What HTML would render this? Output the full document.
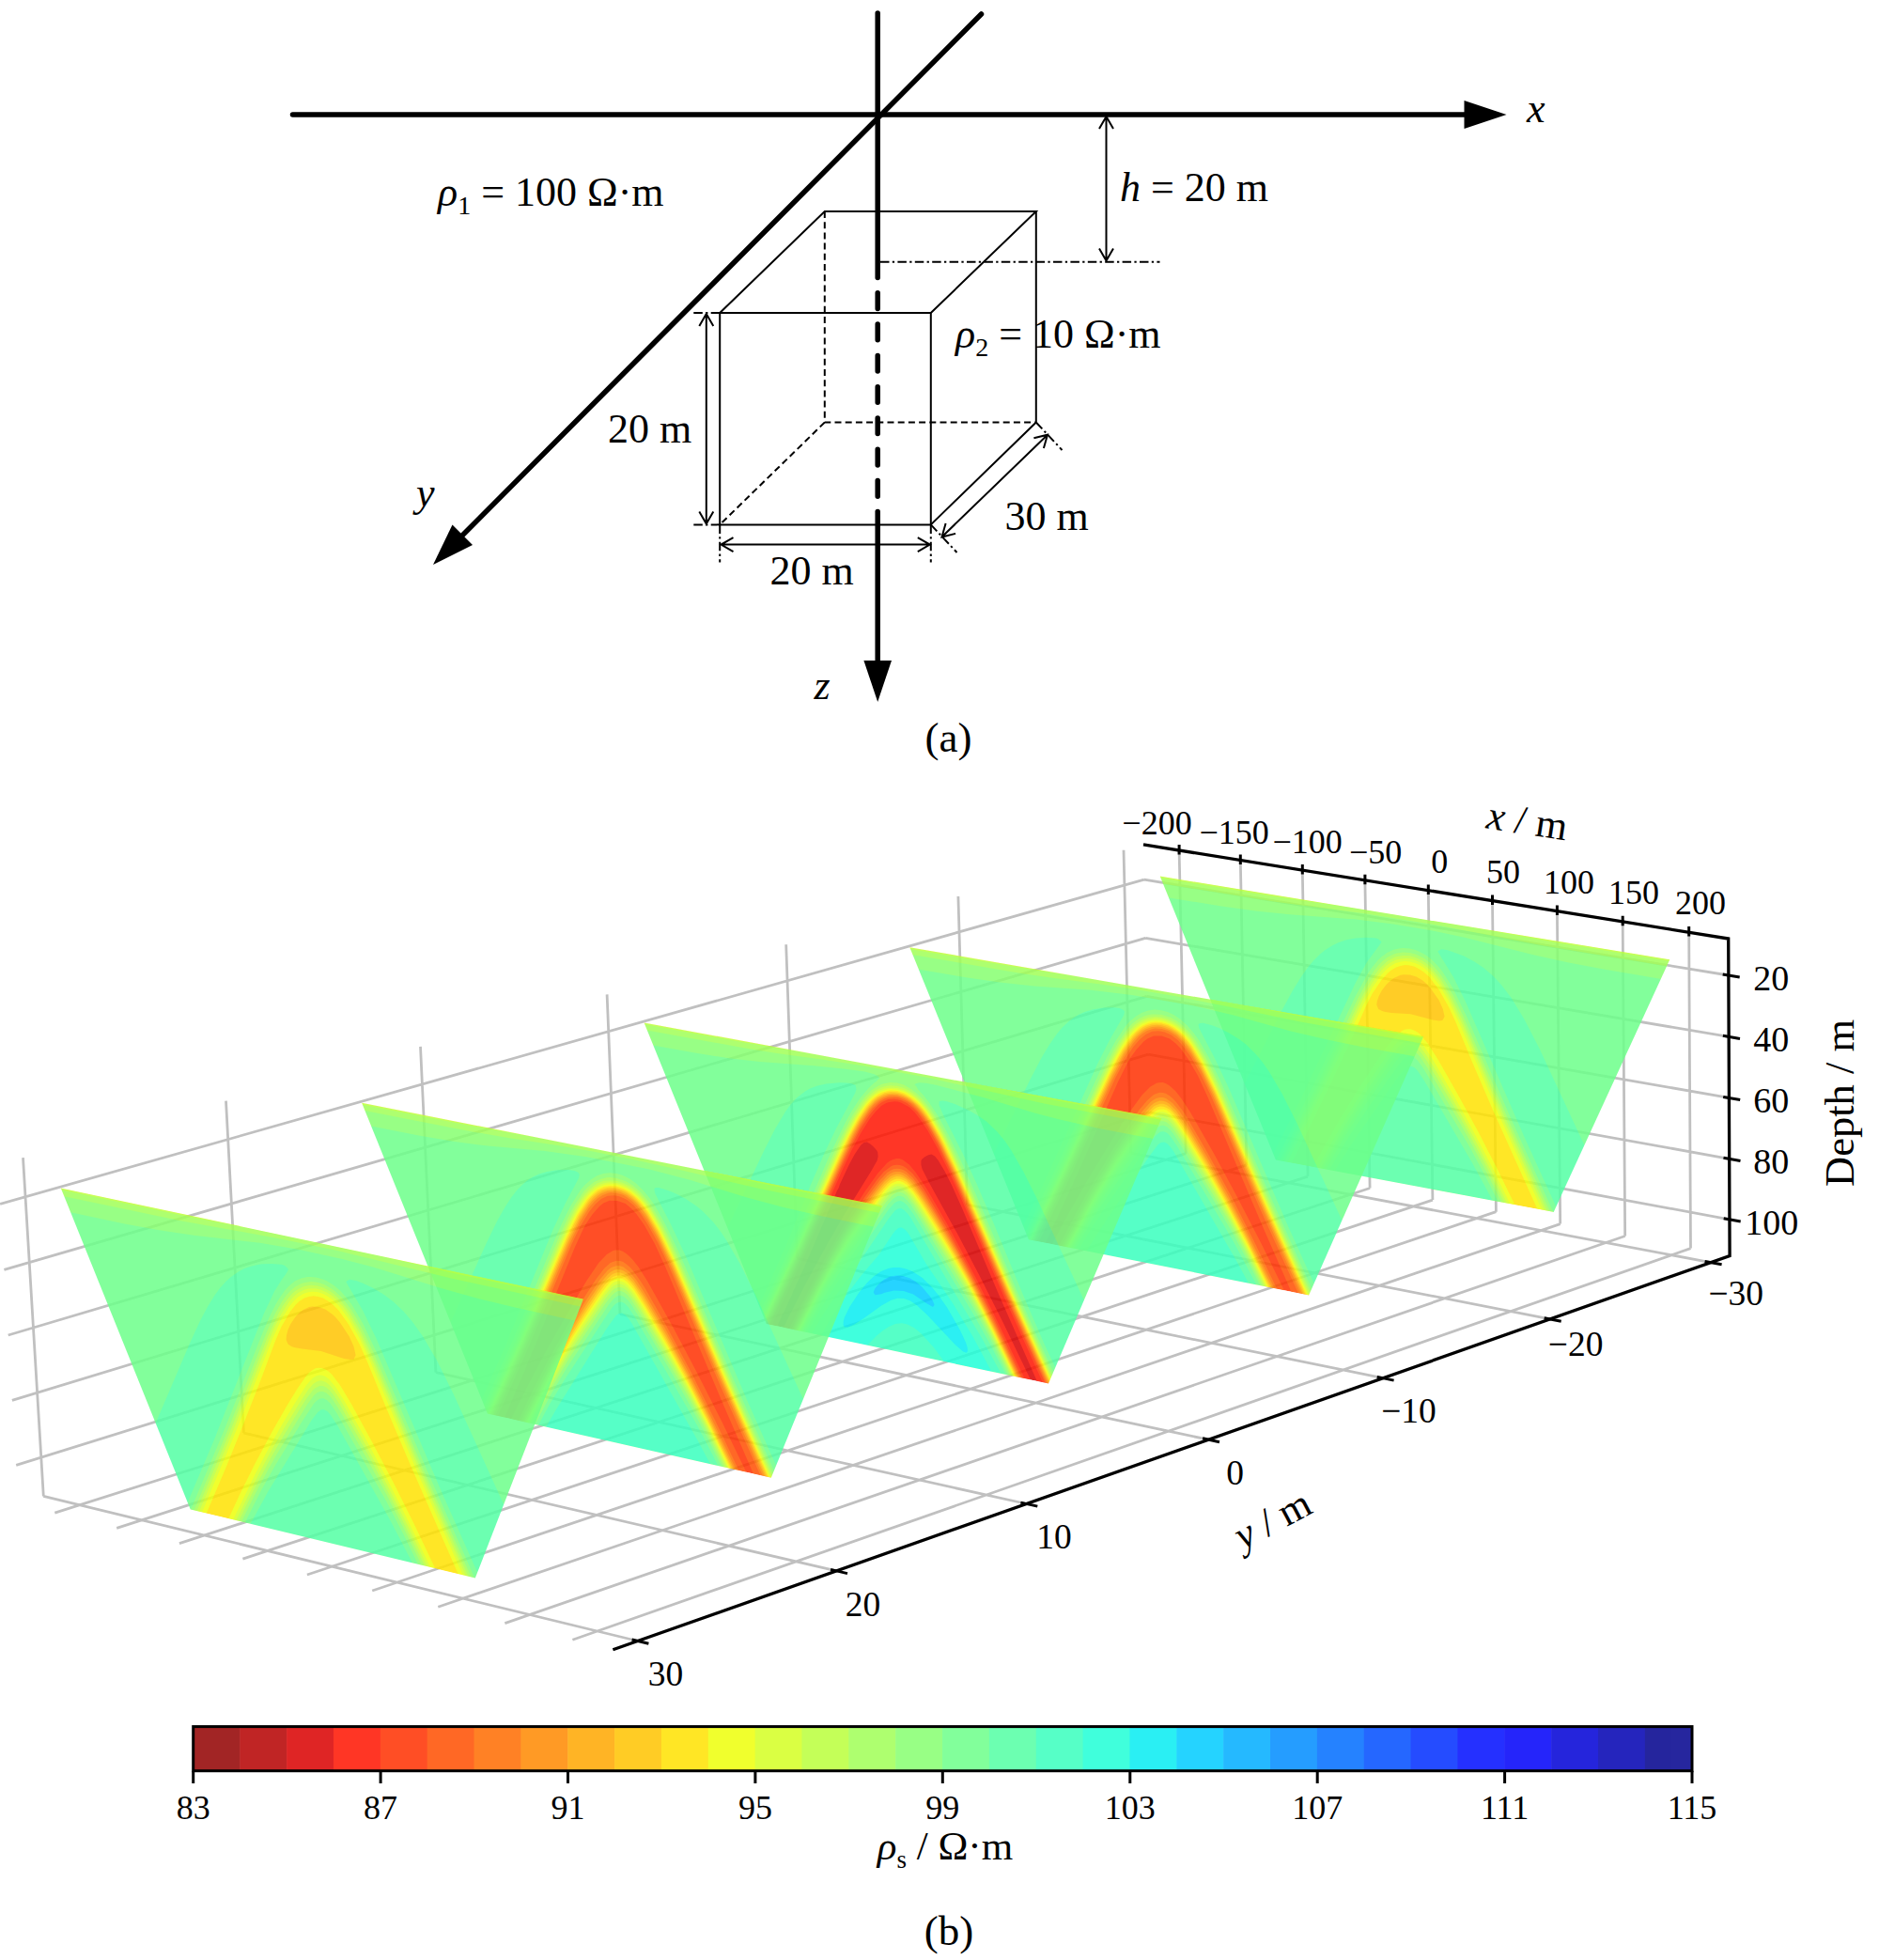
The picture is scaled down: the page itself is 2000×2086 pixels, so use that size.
<!DOCTYPE html>
<html><head><meta charset="utf-8"><title>Figure</title>
<style>html,body{margin:0;padding:0;background:#fff}svg{display:block}</style></head>
<body>
<svg width="2000" height="2086" viewBox="0 0 2000 2086">
<rect width="2000" height="2086" fill="#fff"/>
<g id="figa" fill="none" stroke="#000" stroke-linecap="round">
<g stroke-width="5.5">
<line x1="311.5" y1="122" x2="1562" y2="122"/>
<line x1="934.2" y1="14" x2="934.2" y2="295.5"/>
<line x1="934.2" y1="311.8" x2="934.2" y2="530" stroke-dasharray="16.6 16.7"/>
<line x1="934.2" y1="544.5" x2="934.2" y2="706"/>
<line x1="1044.5" y1="15" x2="478" y2="584"/>
</g>
<g fill="#000" stroke="none">
<polygon points="1558.5,107 1603.5,122 1558.5,137"/>
<polygon points="919.4,703 949,703 934.2,747"/>
<polygon points="461,601 481.5,558.5 503,580"/>
</g>
<g stroke-width="2" stroke-linecap="butt">
<path d="M766.2,333 H990.8 V558.4 H766.2 Z"/>
<path d="M766.2,333 L877.8,225 H1102.8 L990.8,333"/>
<path d="M1102.8,225 V449.5 L990.8,558.4"/>
<path d="M877.8,225 V449.5 H1102.8 M877.8,449.5 L766.2,558.4" stroke-dasharray="7 4.2"/>
<g stroke-dasharray="9.5 3.3 2.3 3.3">
<line x1="937" y1="278.7" x2="1234.5" y2="278.7"/>
<line x1="766.2" y1="333" x2="736.5" y2="333"/>
<line x1="766.2" y1="558.4" x2="736.5" y2="558.4"/>
<line x1="766.2" y1="558.4" x2="766.2" y2="598.5"/>
<line x1="990.8" y1="558.4" x2="990.8" y2="598.5"/>
<line x1="990.8" y1="558.4" x2="1018.5" y2="588"/>
<line x1="1102.8" y1="449.5" x2="1130.5" y2="479"/>
</g>
<path d="M1177.5,124.0 L1177.5,277.5 M1170.0,137.0 L1177.5,124.0 L1185.0,137.0 M1170.0,264.5 L1177.5,277.5 L1185.0,264.5" stroke-linejoin="miter"/>
<path d="M751.8,334.0 L751.8,557.4 M744.3,347.0 L751.8,334.0 L759.3,347.0 M744.3,544.4 L751.8,557.4 L759.3,544.4" stroke-linejoin="miter"/>
<path d="M767.5,579.6 L989.8,579.6 M780.5,587.1 L767.5,579.6 L780.5,572.1 M976.8,587.1 L989.8,579.6 L976.8,572.1" stroke-linejoin="miter"/>
<path d="M1002.5,571.5 L1115.0,462.7 M1017.1,567.9 L1002.5,571.5 L1006.6,557.1 M1110.9,477.1 L1115.0,462.7 L1100.4,466.3" stroke-linejoin="miter"/>
</g>
</g>
<g font-family="'Liberation Serif','Times New Roman',serif" font-size="44" fill="#000">
<text x="1625" y="129.5" font-style="italic">x</text>
<text x="443" y="539" font-style="italic">y</text>
<text x="866.5" y="744" font-style="italic">z</text>
<text x="466" y="219"><tspan font-style="italic">ρ</tspan><tspan font-size="28" dy="9">1</tspan><tspan dy="-9"> = 100 Ω·m</tspan></text>
<text x="1017" y="370.3"><tspan font-style="italic">ρ</tspan><tspan font-size="28" dy="9">2</tspan><tspan dy="-9"> = 10 Ω·m</tspan></text>
<text x="1192" y="214"><tspan font-style="italic">h</tspan> = 20 m</text>
<text x="647" y="470.5">20 m</text>
<text x="819.5" y="622">20 m</text>
<text x="1069.5" y="563.6">30 m</text>
<text x="1009.5" y="800.2" font-size="45" text-anchor="middle">(a)</text>
</g>
<path d="M1196.0,904.8 L1203.7,1227.2 M1019.9,954.0 L1029.5,1282.1 M836.7,1005.2 L848.4,1339.3 M646.1,1058.4 L660.0,1398.7 M447.5,1113.9 L463.9,1460.6 M240.5,1171.7 L259.5,1525.1 M24.5,1232.1 L46.3,1592.3 M1217.8,936.1 L0.1,1281.4 M1219.3,998.4 L4.4,1351.3 M1220.7,1060.4 L8.7,1421.0 M1222.1,1122.2 L12.9,1490.4 M1223.5,1183.8 L17.2,1559.4 M1255.1,905.1 L1262.2,1227.7 M1320.3,915.6 L1326.8,1239.9 M1386.3,926.1 L1392.1,1252.1 M1452.9,936.9 L1458.1,1264.5 M1520.3,947.7 L1524.9,1277.1 M1588.5,958.6 L1592.4,1289.7 M1657.4,969.7 L1660.7,1302.6 M1727.2,980.9 L1729.7,1315.5 M1797.7,992.2 L1799.5,1328.6 M1217.8,936.1 L1839.9,1038.0 M1219.3,998.4 L1840.2,1103.4 M1220.7,1060.4 L1840.4,1168.4 M1222.1,1122.2 L1840.7,1233.3 M1223.5,1183.8 L1840.9,1297.8 M1262.2,1227.7 L58.3,1610.2 M1326.8,1239.9 L124.2,1626.3 M1392.1,1252.1 L190.9,1642.7 M1458.1,1264.5 L258.4,1659.2 M1524.9,1277.1 L326.9,1676.0 M1592.4,1289.7 L396.2,1693.0 M1660.7,1302.6 L466.3,1710.2 M1729.7,1315.5 L537.4,1727.6 M1799.5,1328.6 L609.4,1745.2 M1203.7,1227.2 L1820.8,1343.6 M1029.5,1282.1 L1649.9,1403.9 M848.4,1339.3 L1471.9,1466.7 M660.0,1398.7 L1286.3,1532.2 M463.9,1460.6 L1092.6,1600.5 M259.5,1525.1 L890.3,1671.8 M46.3,1592.3 L678.8,1746.5" fill="none" stroke="#c0c0c0" stroke-width="2.8" stroke-linecap="butt"/>
<clipPath id="cl0"><polygon points="1234.7,932.6 1777.3,1021.2 1653.7,1289.9 1357.9,1234.6"/></clipPath>
<g clip-path="url(#cl0)" opacity="0.85" stroke="none">
<polygon points="1234.7,932.6 1777.3,1021.2 1653.7,1289.9 1357.9,1234.6" fill="#ffc400"/>
<path d="M1234.7 932.6 1777.3 1021.2 1779.0 1313.3 1241.0 1212.7 1234.8 936.6ZM1490.7 1037.8 1484.0 1040.7 1480.6 1043.2 1475.9 1047.6 1470.7 1054.2 1467.5 1060.4 1465.7 1065.7 1465.3 1069.6 1467.2 1073.9 1471.1 1076.0 1474.4 1076.9 1481.2 1077.9 1501.4 1079.2 1525.1 1085.6 1531.9 1086.5 1535.3 1086.0 1537.6 1082.0 1535.8 1073.7 1531.6 1064.6 1522.5 1051.6 1517.8 1046.5 1514.4 1043.6 1507.6 1039.5 1500.8 1037.4 1494.0 1037.2Z" fill="#ffe200" fill-rule="evenodd"/>
<path d="M1234.7 932.6 1777.3 1021.2 1779.0 1313.3 1636.2 1286.6 1589.6 1182.7 1567.3 1131.0 1548.9 1086.5 1541.9 1071.4 1531.4 1053.1 1521.1 1039.6 1515.4 1034.4 1510.8 1031.4 1505.7 1028.8 1500.6 1027.5 1495.6 1027.1 1490.5 1028.0 1486.0 1029.5 1480.5 1032.8 1476.9 1035.9 1470.6 1042.8 1460.7 1057.6 1454.2 1070.3 1437.4 1108.2 1417.0 1151.8 1397.9 1191.4 1374.7 1237.7 1241.0 1212.7 1234.8 936.6ZM1498.8 1095.2 1501.6 1095.3 1505.0 1096.4 1508.4 1098.2 1511.8 1101.1 1519.9 1110.8 1531.1 1128.6 1551.3 1164.0 1572.9 1203.5 1593.2 1242.9 1612.3 1282.1 1397.7 1242.0 1411.2 1217.2 1427.5 1189.0 1447.1 1157.2 1463.4 1132.5 1475.7 1114.9 1484.9 1103.3 1491.5 1097.6 1494.9 1095.8 1498.2 1095.2Z" fill="#eeff09" fill-rule="evenodd"/>
<path d="M1234.7 932.6 1777.3 1021.2 1779.0 1313.3 1641.0 1287.5 1596.0 1187.8 1552.3 1086.8 1541.8 1065.1 1531.4 1047.5 1521.8 1035.5 1516.2 1030.6 1510.8 1027.1 1506.2 1024.9 1500.6 1023.4 1495.0 1023.0 1490.4 1023.7 1485.1 1025.3 1479.7 1028.4 1475.7 1031.7 1470.5 1037.3 1460.6 1051.3 1450.9 1069.4 1410.8 1154.6 1370.1 1236.9 1241.0 1212.7 1234.8 936.6ZM1496.7 1102.8 1498.3 1102.2 1501.7 1102.3 1505.1 1103.4 1508.5 1105.6 1515.3 1112.9 1525.0 1127.5 1548.2 1167.4 1565.2 1198.2 1585.8 1237.6 1607.3 1281.2 1402.4 1242.9 1428.4 1197.0 1441.3 1175.8 1457.2 1151.1 1474.1 1126.5 1484.5 1112.5 1488.3 1108.2 1491.7 1105.3 1495.0 1103.3Z" fill="#d4ff23" fill-rule="evenodd"/>
<path d="M1234.7 932.6 1777.3 1021.2 1779.0 1313.3 1644.1 1288.1 1602.8 1197.0 1555.9 1089.1 1541.7 1060.0 1531.3 1043.0 1526.0 1036.2 1521.4 1031.4 1515.2 1026.4 1510.7 1023.7 1503.9 1021.1 1500.5 1020.3 1497.1 1019.9 1490.4 1020.4 1486.0 1021.5 1479.9 1024.5 1475.5 1027.7 1470.4 1032.8 1460.5 1046.3 1454.0 1057.5 1447.4 1070.5 1404.4 1161.3 1367.1 1236.3 1241.0 1212.7 1234.8 936.6ZM1501.0 1107.5 1505.2 1108.7 1508.6 1111.0 1512.0 1114.5 1518.9 1123.9 1526.1 1135.7 1550.0 1176.8 1568.7 1210.7 1586.9 1245.7 1604.1 1280.6 1405.6 1243.5 1431.7 1197.6 1444.8 1176.4 1461.1 1151.8 1478.2 1127.2 1486.1 1116.8 1491.7 1110.9 1495.1 1108.7 1498.4 1107.5Z" fill="#baff3c" fill-rule="evenodd"/>
<path d="M1234.8 936.6 1234.7 934.3 1359.2 954.4 1436.1 965.5 1564.3 986.5 1647.4 1001.5 1777.3 1022.9 1779.0 1313.3 1646.8 1288.6 1601.2 1187.8 1556.6 1085.3 1543.8 1059.2 1533.1 1041.4 1524.3 1030.7 1517.5 1024.8 1514.1 1022.5 1507.3 1019.2 1500.5 1017.3 1493.7 1016.9 1487.0 1018.0 1483.6 1019.1 1477.0 1022.8 1468.6 1030.5 1458.4 1044.7 1446.6 1066.4 1405.7 1152.8 1364.5 1235.8 1241.0 1212.7 1234.8 940.5ZM1494.4 1114.3 1498.5 1112.4 1501.9 1112.3 1505.2 1113.6 1508.6 1116.1 1512.1 1119.8 1519.0 1129.6 1543.2 1170.4 1560.5 1201.0 1581.4 1240.2 1601.3 1280.1 1408.3 1244.0 1426.6 1211.7 1446.0 1180.3 1478.6 1132.6 1485.2 1123.7 1491.8 1116.3Z" fill="#a0ff56" fill-rule="evenodd"/>
<path d="M1455.8 972.7 1520.3 982.9 1640.5 1005.9 1777.3 1028.8 1779.0 1313.3 1649.7 1289.1 1604.7 1189.8 1557.5 1081.4 1546.9 1059.7 1539.5 1046.4 1534.6 1039.0 1530.0 1032.9 1524.3 1026.7 1517.4 1021.1 1514.0 1019.0 1507.2 1015.8 1500.4 1014.0 1493.7 1013.6 1486.9 1014.5 1483.6 1015.5 1476.9 1018.8 1471.4 1023.1 1467.0 1027.6 1462.3 1033.4 1455.4 1044.2 1445.6 1062.3 1402.5 1153.6 1361.8 1235.3 1241.0 1212.7 1234.8 939.9 1359.3 959.9 1452.7 972.3ZM1496.6 1118.6 1498.6 1117.7 1501.9 1117.6 1505.3 1118.9 1508.7 1121.6 1512.1 1125.6 1519.0 1135.9 1546.7 1182.6 1564.1 1213.2 1581.4 1245.9 1598.3 1279.5 1411.2 1244.5 1429.9 1211.9 1449.3 1181.2 1485.3 1129.9 1491.9 1122.0 1495.2 1119.3Z" fill="#87ff70" fill-rule="evenodd"/>
<path d="M1441.6 978.3 1483.1 983.5 1527.2 991.0 1559.1 997.7 1630.3 1015.8 1668.5 1024.3 1706.9 1031.6 1777.4 1043.5 1779.0 1313.3 1653.2 1289.8 1608.1 1190.3 1561.2 1082.1 1546.3 1051.6 1535.1 1033.7 1531.1 1028.7 1524.2 1021.6 1517.4 1016.3 1510.5 1012.7 1507.1 1011.2 1500.4 1009.5 1493.6 1009.0 1490.2 1009.3 1483.5 1010.7 1476.8 1013.7 1470.2 1018.6 1466.4 1022.2 1460.7 1029.2 1455.8 1036.3 1442.0 1061.7 1399.1 1152.8 1358.4 1234.7 1241.0 1212.7 1235.2 954.0 1300.3 964.5 1336.4 969.5 1372.8 973.3 1439.4 978.2ZM1495.2 1126.3 1498.7 1124.4 1502.0 1124.2 1505.4 1125.6 1509.0 1128.7 1515.7 1137.9 1564.2 1220.6 1581.5 1252.8 1594.7 1278.8 1414.7 1245.2 1433.3 1213.6 1449.5 1188.7 1478.9 1146.7 1492.0 1129.3Z" fill="#6dff8a" fill-rule="evenodd"/>
<path d="M1442.9 998.4 1453.1 997.7 1463.1 998.2 1466.5 999.0 1469.9 1001.8 1470.4 1003.0 1454.8 1024.2 1442.8 1046.0 1386.2 1166.3 1352.6 1233.6 1290.2 1221.9 1364.2 1075.8 1375.9 1054.3 1384.7 1040.0 1392.2 1029.5 1398.0 1022.6 1404.8 1015.8 1409.9 1011.6 1418.2 1006.2 1424.4 1003.3 1432.2 1000.6 1439.7 999.0ZM1530.4 1013.0 1530.9 1012.0 1534.3 1010.3 1541.1 1011.3 1558.2 1017.5 1569.3 1023.4 1578.8 1029.8 1589.3 1038.8 1598.1 1048.3 1608.6 1062.1 1622.3 1084.5 1638.2 1115.3 1725.7 1303.3 1659.3 1290.9 1622.0 1208.9 1559.9 1065.9 1546.9 1039.7 1530.9 1013.6ZM1499.7 1135.0 1502.2 1134.8 1505.6 1136.3 1509.0 1139.8 1515.9 1149.9 1567.8 1238.9 1588.8 1277.7 1420.4 1246.3 1439.9 1215.4 1488.9 1145.1 1495.5 1137.4 1498.8 1135.1Z" fill="#53ffa4" fill-rule="evenodd"/>
</g>
<clipPath id="cl1"><polygon points="968.3,1008.2 1515.2,1103.1 1393.1,1378.4 1094.9,1319.2"/></clipPath>
<g clip-path="url(#cl1)" opacity="0.85" stroke="none">
<polygon points="968.3,1008.2 1515.2,1103.1 1393.1,1378.4 1094.9,1319.2" fill="#ff3000"/>
<path d="M968.3 1008.2 1515.2 1103.1 1519.5 1403.4 1374.4 1374.7 1345.0 1307.8 1285.7 1168.1 1275.0 1144.8 1264.3 1126.5 1256.3 1115.6 1251.7 1110.7 1245.0 1105.4 1236.5 1102.5 1228.1 1102.4 1221.6 1105.3 1217.3 1108.6 1209.8 1116.7 1203.2 1125.8 1200.0 1131.3 1190.3 1150.7 1145.0 1253.1 1142.8 1256.9 1141.7 1260.5 1139.7 1263.9 1138.3 1267.9 1112.8 1322.8 977.2 1295.9 968.5 1012.2ZM1233.3 1152.3 1237.7 1152.1 1241.1 1153.3 1244.5 1155.3 1248.0 1158.2 1251.5 1161.6 1257.3 1168.9 1266.5 1182.9 1292.5 1228.5 1316.9 1273.9 1342.5 1323.6 1366.9 1373.2 1119.9 1324.2 1135.4 1295.3 1157.9 1255.6 1193.2 1197.7 1202.6 1183.3 1215.5 1165.4 1224.2 1156.7 1230.9 1152.8Z" fill="#ff4e00" fill-rule="evenodd"/>
<path d="M968.3 1008.2 1515.2 1103.1 1519.5 1403.4 1381.7 1376.1 1341.3 1286.7 1289.1 1166.6 1278.3 1143.9 1267.7 1125.1 1260.6 1115.0 1253.8 1107.0 1246.7 1101.5 1239.8 1098.5 1236.4 1097.7 1233.0 1097.3 1226.2 1097.8 1219.4 1100.9 1212.9 1106.5 1206.3 1114.1 1196.6 1129.2 1186.9 1147.9 1141.0 1248.3 1105.8 1321.4 977.2 1295.9 968.5 1012.2ZM1230.5 1164.0 1234.5 1162.8 1237.9 1162.9 1241.3 1164.0 1244.8 1166.2 1248.2 1169.0 1251.7 1172.7 1258.2 1181.3 1264.2 1190.6 1285.5 1227.2 1310.2 1272.6 1335.4 1322.2 1359.1 1371.6 1127.4 1325.7 1142.5 1296.7 1158.3 1267.7 1184.0 1224.3 1200.4 1199.1 1212.8 1181.1 1221.2 1170.9 1227.8 1165.2Z" fill="#ff6c00" fill-rule="evenodd"/>
<path d="M968.3 1008.2 1515.2 1103.1 1519.5 1403.4 1384.3 1376.6 1337.9 1273.8 1292.6 1169.9 1278.3 1139.6 1267.6 1121.2 1257.4 1107.6 1252.0 1102.6 1246.7 1098.9 1243.2 1096.9 1236.4 1094.9 1229.6 1094.5 1226.2 1095.3 1221.0 1097.1 1216.1 1100.0 1212.0 1103.6 1206.2 1110.2 1196.5 1124.9 1183.6 1150.0 1143.7 1236.8 1103.3 1320.9 977.2 1295.9 968.5 1012.2ZM1232.7 1168.5 1234.6 1167.9 1238.0 1168.0 1241.4 1169.2 1248.3 1174.2 1255.3 1182.5 1263.2 1194.5 1284.7 1231.1 1307.2 1272.0 1328.1 1312.7 1356.4 1371.1 1130.0 1326.2 1161.1 1268.3 1187.2 1224.9 1203.8 1199.7 1216.7 1181.8 1224.6 1173.0 1227.9 1170.4 1231.3 1168.8Z" fill="#ff8900" fill-rule="evenodd"/>
<path d="M968.3 1008.2 1515.2 1103.1 1519.5 1403.4 1386.4 1377.1 1341.7 1278.6 1292.5 1166.1 1278.2 1136.4 1267.5 1118.3 1263.8 1112.9 1257.0 1104.9 1253.5 1101.6 1246.6 1096.7 1239.7 1093.9 1236.3 1093.0 1232.9 1092.6 1226.1 1093.1 1219.4 1095.6 1216.1 1097.7 1209.7 1103.2 1206.2 1107.3 1196.4 1121.6 1183.5 1146.3 1140.2 1240.1 1101.3 1320.5 977.2 1295.9 968.5 1012.2ZM1231.8 1172.4 1234.7 1171.6 1238.1 1171.7 1241.5 1172.8 1245.0 1175.0 1251.9 1182.0 1263.1 1198.5 1284.8 1235.2 1309.7 1280.6 1328.2 1316.8 1354.3 1370.7 1132.0 1326.6 1161.1 1272.3 1187.2 1228.9 1204.0 1203.8 1216.9 1185.9 1224.7 1177.0 1228.0 1174.3 1231.4 1172.5Z" fill="#ffa700" fill-rule="evenodd"/>
<path d="M968.3 1008.2 1515.2 1103.1 1519.5 1403.4 1387.9 1377.3 1345.3 1283.4 1292.6 1163.1 1278.1 1133.5 1267.5 1115.7 1257.8 1103.6 1252.0 1098.5 1246.6 1095.0 1240.8 1092.4 1236.3 1091.2 1231.8 1090.8 1226.1 1091.3 1220.8 1092.9 1215.2 1096.0 1211.1 1099.4 1206.1 1104.8 1196.3 1118.8 1183.3 1143.2 1136.9 1243.5 1099.9 1320.2 977.2 1295.9 968.5 1012.2ZM1230.4 1176.2 1234.8 1174.7 1238.2 1174.8 1241.6 1176.0 1245.0 1178.2 1252.0 1185.4 1260.6 1198.1 1283.8 1236.8 1303.0 1271.2 1324.2 1311.9 1352.8 1370.4 1133.5 1326.9 1158.8 1279.8 1171.3 1258.2 1184.6 1236.5 1196.5 1218.6 1214.0 1193.5 1221.5 1184.0 1228.1 1177.6Z" fill="#ffc400" fill-rule="evenodd"/>
<path d="M968.3 1008.2 1515.2 1103.1 1519.5 1403.4 1389.4 1377.6 1348.7 1288.1 1294.0 1163.4 1278.7 1131.9 1267.4 1113.3 1263.9 1108.5 1256.9 1100.8 1253.4 1097.8 1246.5 1093.2 1243.1 1091.6 1236.2 1089.6 1229.4 1089.2 1226.1 1089.6 1219.3 1091.7 1216.0 1093.6 1209.3 1098.8 1206.0 1102.4 1195.7 1117.0 1189.4 1128.1 1181.9 1143.0 1133.8 1246.9 1098.4 1319.9 977.2 1295.9 968.5 1012.2ZM1229.1 1180.0 1231.5 1178.6 1234.9 1177.6 1238.2 1177.7 1241.7 1178.9 1245.1 1181.1 1248.6 1184.4 1252.1 1188.7 1259.1 1199.0 1283.8 1240.1 1306.1 1279.9 1327.2 1320.6 1351.2 1370.1 1135.0 1327.2 1162.4 1276.5 1182.5 1243.1 1195.5 1223.5 1213.7 1197.5 1221.5 1187.3 1228.2 1180.7Z" fill="#ffe200" fill-rule="evenodd"/>
<path d="M968.3 1008.2 1515.2 1103.1 1519.5 1403.4 1390.8 1377.9 1346.2 1279.4 1293.4 1159.2 1280.2 1132.2 1269.4 1113.8 1260.4 1102.3 1256.9 1098.9 1249.9 1093.6 1243.1 1090.0 1236.2 1088.1 1229.4 1087.6 1222.6 1088.7 1215.9 1091.7 1212.6 1093.9 1204.1 1102.2 1194.2 1116.7 1182.3 1139.0 1135.9 1239.3 1097.1 1319.7 977.2 1295.9 968.5 1012.2ZM1233.4 1180.8 1238.3 1180.4 1241.7 1181.6 1245.2 1184.0 1252.1 1191.8 1262.7 1208.0 1287.4 1249.5 1308.7 1287.7 1330.2 1329.3 1349.8 1369.8 1136.3 1327.5 1163.3 1277.8 1185.8 1241.2 1198.8 1222.0 1218.3 1194.7 1224.9 1186.8 1228.2 1183.7 1231.6 1181.5Z" fill="#eeff09" fill-rule="evenodd"/>
<path d="M968.3 1008.2 1515.2 1103.1 1519.5 1403.4 1392.2 1378.2 1349.9 1284.9 1296.9 1163.9 1286.4 1141.5 1279.4 1127.9 1267.9 1109.5 1263.8 1104.2 1256.8 1097.0 1249.9 1091.8 1246.5 1089.9 1239.6 1087.2 1236.2 1086.4 1232.8 1086.0 1226.0 1086.3 1222.6 1086.9 1215.9 1089.7 1209.2 1094.5 1205.4 1098.4 1199.7 1105.5 1194.8 1112.8 1188.4 1123.8 1179.1 1142.5 1132.5 1243.3 1095.7 1319.4 977.2 1295.9 968.5 1012.2ZM1231.4 1184.5 1235.0 1183.2 1238.4 1183.2 1241.8 1184.5 1245.2 1186.9 1252.2 1195.1 1259.2 1205.7 1284.0 1246.8 1305.2 1284.1 1326.6 1324.9 1348.4 1369.5 1137.7 1327.7 1160.2 1286.3 1179.4 1254.3 1195.6 1230.0 1215.2 1202.6 1221.7 1193.9 1228.3 1186.8Z" fill="#d4ff23" fill-rule="evenodd"/>
<path d="M968.3 1008.2 1515.2 1103.1 1519.5 1403.4 1393.7 1378.5 1353.4 1289.8 1300.5 1168.6 1283.5 1132.8 1276.0 1119.1 1270.8 1111.1 1266.5 1105.1 1260.3 1098.1 1253.3 1092.1 1246.4 1088.0 1243.0 1086.5 1236.1 1084.6 1229.3 1084.1 1225.9 1084.4 1219.2 1086.1 1212.5 1089.6 1206.6 1094.5 1202.6 1098.9 1197.8 1105.2 1190.9 1116.2 1184.8 1127.3 1175.7 1145.9 1129.3 1246.8 1094.3 1319.1 977.2 1295.9 968.5 1012.2ZM1230.4 1188.4 1235.0 1186.2 1238.4 1186.2 1241.9 1187.5 1245.3 1190.1 1248.8 1193.8 1255.8 1203.8 1287.6 1256.3 1305.3 1287.4 1326.7 1327.9 1346.9 1369.2 1139.2 1328.0 1160.3 1289.3 1182.8 1252.6 1215.2 1206.3 1221.8 1197.5 1228.4 1190.0Z" fill="#baff3c" fill-rule="evenodd"/>
<path d="M968.5 1012.2 968.4 1009.9 1083.7 1029.6 1153.3 1040.3 1318.7 1069.0 1391.2 1083.1 1515.2 1104.9 1519.5 1403.4 1395.5 1378.8 1356.9 1294.2 1300.3 1164.5 1290.0 1142.1 1283.1 1128.6 1270.7 1108.1 1265.1 1100.8 1260.2 1095.7 1256.7 1092.5 1249.8 1087.6 1242.9 1084.5 1236.1 1082.5 1229.3 1082.1 1222.5 1082.8 1215.8 1085.3 1212.4 1087.3 1207.8 1090.6 1202.5 1095.9 1198.3 1101.2 1191.1 1112.1 1184.9 1123.2 1175.7 1141.8 1126.1 1249.9 1092.7 1318.8 977.2 1295.9 968.6 1016.3ZM1235.9 1189.4 1238.5 1189.4 1241.9 1190.7 1245.4 1193.5 1252.4 1202.3 1259.4 1213.4 1287.7 1260.3 1308.9 1297.5 1323.2 1324.3 1345.3 1368.9 1140.7 1328.3 1160.4 1292.6 1182.8 1256.3 1221.9 1201.4 1228.5 1193.7 1231.8 1191.0 1235.1 1189.5Z" fill="#a0ff56" fill-rule="evenodd"/>
<path d="M1168.7 1047.0 1211.7 1053.5 1256.0 1061.1 1300.8 1070.0 1384.3 1087.6 1515.3 1110.9 1519.5 1403.4 1397.5 1379.3 1356.9 1289.8 1300.6 1160.5 1290.1 1138.1 1283.1 1124.5 1271.8 1106.1 1267.1 1100.0 1260.2 1092.6 1253.2 1087.1 1246.3 1083.0 1236.0 1079.8 1225.8 1079.4 1219.1 1081.0 1212.4 1084.1 1205.7 1089.1 1201.3 1093.6 1191.0 1108.0 1184.6 1119.1 1175.3 1137.7 1126.0 1245.6 1090.7 1318.4 977.2 1295.9 968.6 1015.7 1087.2 1035.9 1123.9 1041.3 1167.6 1046.9ZM1235.0 1193.3 1238.6 1193.2 1242.0 1194.5 1245.5 1197.5 1249.0 1201.7 1256.0 1212.2 1305.5 1295.4 1323.2 1328.2 1343.3 1368.5 1142.7 1328.7 1160.5 1296.4 1183.0 1260.8 1222.0 1205.9 1228.5 1197.9 1231.9 1195.0Z" fill="#87ff70" fill-rule="evenodd"/>
<path d="M1159.2 1053.6 1205.0 1058.9 1269.9 1070.3 1313.2 1080.4 1374.0 1097.4 1412.7 1106.6 1451.5 1114.5 1515.5 1126.0 1519.5 1403.4 1400.0 1379.8 1353.1 1275.4 1307.6 1169.9 1297.6 1147.6 1286.4 1125.1 1275.8 1106.8 1270.6 1099.4 1263.5 1091.3 1256.6 1084.9 1249.6 1080.2 1242.8 1077.0 1235.9 1075.3 1229.1 1074.6 1222.3 1075.4 1215.6 1077.7 1208.9 1081.7 1202.3 1087.3 1197.4 1092.9 1187.7 1107.4 1177.7 1126.0 1168.7 1144.6 1128.9 1232.7 1088.3 1317.9 977.2 1295.9 969.0 1030.1 1028.0 1040.2 1064.3 1045.6 1100.9 1049.5 1157.7 1053.5ZM1237.3 1197.8 1238.7 1197.8 1242.1 1199.3 1245.6 1202.4 1249.1 1206.8 1256.1 1217.7 1295.0 1282.7 1312.7 1313.5 1326.9 1340.1 1341.0 1368.0 1144.9 1329.1 1163.8 1296.1 1179.9 1271.2 1225.4 1207.0 1231.0 1200.7 1235.3 1198.0Z" fill="#6dff8a" fill-rule="evenodd"/>
<path d="M1174.8 1072.6 1185.1 1072.3 1191.8 1073.1 1195.2 1074.5 1197.0 1076.5 1196.2 1080.4 1181.4 1106.3 1168.1 1132.4 1113.0 1255.3 1083.3 1316.9 1020.2 1304.4 1097.1 1147.7 1108.7 1125.6 1117.5 1111.1 1125.0 1100.3 1131.0 1093.3 1138.2 1086.4 1142.7 1083.2 1147.9 1080.0 1154.4 1077.1 1162.8 1074.5 1171.6 1073.0ZM1275.5 1090.3 1277.2 1088.9 1280.6 1088.7 1290.9 1091.5 1298.0 1094.3 1308.3 1099.4 1319.3 1106.3 1326.2 1111.6 1336.6 1121.7 1344.4 1131.3 1351.0 1140.8 1364.5 1163.8 1380.5 1195.6 1472.7 1394.2 1405.3 1380.8 1371.0 1305.0 1307.7 1157.6 1292.9 1126.2 1276.4 1094.6ZM1234.1 1205.3 1235.5 1204.5 1238.8 1204.2 1242.3 1205.8 1245.7 1209.2 1252.7 1219.4 1312.8 1321.2 1337.3 1367.3 1148.4 1329.9 1160.8 1308.6 1176.8 1283.9 1222.3 1218.8 1228.8 1210.1 1232.1 1206.7Z" fill="#53ffa4" fill-rule="evenodd"/>
<path d="M1233.6 1217.4 1235.7 1216.0 1239.1 1215.4 1242.5 1217.2 1246.0 1221.0 1249.5 1226.1 1316.7 1343.0 1329.0 1365.7 1156.5 1331.4 1167.6 1313.7 1222.6 1231.5 1232.4 1218.4Z" fill="#39ffbe" fill-rule="evenodd"/>
</g>
<clipPath id="cl2"><polygon points="685.6,1088.4 1236.3,1190.3 1116.0,1472.5 815.8,1409.1"/></clipPath>
<g clip-path="url(#cl2)" opacity="0.85" stroke="none">
<polygon points="685.6,1088.4 1236.3,1190.3 1116.0,1472.5 815.8,1409.1" fill="#da0000"/>
<path d="M685.6 1088.4 1236.3 1190.3 1243.4 1499.4 1103.8 1469.9 1063.1 1377.7 1024.1 1286.0 1013.1 1261.6 1005.8 1247.0 998.5 1234.7 995.0 1230.5 991.5 1228.5 988.1 1229.3 984.7 1231.0 981.3 1233.8 980.4 1235.5 980.4 1239.7 981.6 1244.2 988.9 1258.6 1019.9 1314.6 1042.1 1356.7 1067.9 1408.0 1097.0 1468.5 833.8 1412.9 858.4 1364.8 880.6 1324.0 899.9 1290.7 927.2 1246.6 933.7 1234.9 934.6 1230.9 934.3 1226.6 933.3 1224.6 929.8 1220.4 926.3 1217.4 922.8 1215.4 919.5 1216.0 916.2 1218.8 909.7 1228.4 903.4 1240.2 893.9 1260.4 892.7 1264.3 890.8 1267.6 861.3 1336.6 849.6 1363.0 847.4 1366.9 846.3 1370.5 844.3 1373.8 842.9 1378.0 834.3 1396.6 832.0 1400.5 830.9 1404.1 828.9 1407.2 827.4 1411.5 697.4 1384.1 685.8 1092.5Z" fill="#ff1300" fill-rule="evenodd"/>
<path d="M685.6 1088.4 1236.3 1190.3 1243.4 1499.4 1109.8 1471.2 1066.0 1374.1 1020.2 1268.9 1009.1 1244.7 998.1 1222.6 987.3 1203.1 980.1 1192.2 973.6 1183.8 968.1 1178.6 965.9 1177.2 958.9 1173.5 955.5 1172.5 952.1 1172.3 945.3 1173.3 943.2 1173.9 937.9 1177.1 932.0 1183.1 925.4 1191.3 915.8 1206.8 906.2 1224.8 896.8 1244.8 858.2 1331.8 821.6 1410.3 697.4 1384.1 685.8 1092.5ZM950.9 1234.0 954.0 1232.9 957.4 1232.9 960.8 1234.2 967.8 1239.6 974.9 1247.9 987.0 1266.2 1008.9 1304.0 1038.8 1360.2 1064.2 1411.5 1090.5 1467.1 840.0 1414.2 871.9 1351.1 890.3 1317.7 903.3 1295.5 919.6 1269.6 934.1 1249.0 943.9 1238.1 947.3 1235.6 950.6 1234.1Z" fill="#ff3000" fill-rule="evenodd"/>
<path d="M685.6 1088.4 1236.3 1190.3 1243.4 1499.4 1112.4 1471.7 1066.2 1370.0 1020.0 1264.4 1009.0 1240.2 998.0 1217.8 987.1 1198.6 976.4 1183.6 972.5 1179.4 965.4 1173.9 958.9 1171.0 955.4 1170.2 952.0 1169.8 945.5 1170.1 938.8 1173.1 935.1 1175.8 931.0 1180.0 925.3 1186.9 915.6 1202.0 906.1 1220.3 896.6 1240.3 857.8 1327.6 819.1 1409.8 697.4 1384.1 685.8 1092.5ZM947.7 1241.8 950.8 1240.3 954.2 1239.7 957.6 1240.0 961.1 1241.0 964.5 1242.9 971.6 1249.3 976.6 1255.8 983.2 1265.4 1005.8 1303.4 1031.4 1350.4 1057.2 1401.6 1087.9 1466.5 842.6 1414.7 853.3 1392.5 872.4 1355.3 890.7 1321.9 903.9 1299.7 920.5 1274.0 933.4 1255.7 940.8 1247.0 947.5 1241.9Z" fill="#ff4e00" fill-rule="evenodd"/>
<path d="M685.6 1088.4 1236.3 1190.3 1243.4 1499.4 1113.8 1472.0 1069.8 1374.9 1016.3 1252.9 997.9 1214.6 990.6 1201.6 983.4 1190.2 975.1 1179.9 969.3 1174.6 965.7 1172.3 958.8 1169.0 955.3 1168.1 951.9 1167.8 945.1 1168.5 941.6 1169.4 936.2 1172.6 928.5 1179.8 922.0 1188.6 915.5 1198.9 906.0 1216.9 899.6 1230.3 854.5 1331.1 817.8 1409.5 697.4 1384.1 685.8 1092.5ZM947.5 1245.9 950.9 1244.3 954.3 1243.7 957.7 1244.0 961.2 1245.0 964.7 1246.9 971.7 1253.4 983.3 1269.6 1008.9 1312.4 1031.9 1354.7 1053.2 1396.6 1086.4 1466.2 844.0 1415.0 872.2 1359.4 897.0 1314.9 910.7 1292.8 923.0 1274.5 936.4 1256.3 944.3 1248.1Z" fill="#ff6c00" fill-rule="evenodd"/>
<path d="M685.6 1088.4 1236.3 1190.3 1243.4 1499.4 1115.2 1472.3 1073.3 1379.8 1016.2 1250.0 1001.5 1218.9 988.0 1195.0 983.4 1188.0 977.3 1180.3 972.0 1175.1 965.7 1170.7 962.2 1168.8 955.3 1166.6 948.5 1166.2 945.1 1166.8 939.0 1168.9 935.0 1171.4 930.2 1175.6 925.1 1181.5 915.4 1196.2 909.0 1207.9 899.6 1227.4 851.5 1334.6 816.5 1409.2 697.4 1384.1 685.8 1092.5ZM953.4 1247.1 957.8 1247.0 961.3 1248.2 964.8 1250.2 971.8 1256.8 980.8 1269.1 996.9 1295.1 1017.6 1330.8 1035.2 1363.7 1060.8 1414.9 1084.9 1465.9 845.4 1415.3 875.6 1356.0 887.8 1333.7 903.2 1307.9 920.1 1282.2 936.1 1260.4 944.4 1251.4 947.7 1249.0 951.0 1247.5Z" fill="#ff8900" fill-rule="evenodd"/>
<path d="M685.6 1088.4 1236.3 1190.3 1243.4 1499.4 1116.5 1472.6 1070.4 1370.8 1016.1 1247.3 997.8 1209.5 986.5 1190.5 979.7 1181.4 976.2 1177.5 972.6 1174.1 965.6 1169.1 962.2 1167.4 955.3 1165.3 948.4 1164.8 945.0 1165.2 938.3 1167.7 934.9 1169.7 931.6 1172.3 925.4 1178.9 915.3 1193.8 909.0 1205.3 899.5 1224.8 853.7 1326.8 815.3 1409.0 697.4 1384.1 685.8 1092.5ZM950.4 1250.7 954.5 1249.5 957.9 1249.7 961.4 1250.9 968.3 1256.0 975.4 1264.5 989.8 1286.6 1011.5 1322.8 1033.7 1363.4 1057.2 1410.0 1083.7 1465.7 846.6 1415.6 872.9 1363.7 885.0 1341.4 899.2 1317.3 915.2 1292.6 931.4 1270.0 941.2 1257.8 947.8 1251.9Z" fill="#ffa700" fill-rule="evenodd"/>
<path d="M685.6 1088.4 1236.3 1190.3 1243.4 1499.4 1117.6 1472.8 1073.6 1375.7 1016.9 1246.8 999.0 1209.7 986.8 1189.0 980.8 1181.0 976.2 1175.9 969.9 1170.5 965.6 1167.7 958.7 1164.8 955.2 1163.9 951.8 1163.5 945.0 1163.9 940.8 1165.0 934.8 1168.1 930.5 1171.5 925.0 1177.4 918.7 1186.0 914.1 1193.5 907.9 1204.8 898.6 1223.9 850.9 1330.4 814.2 1408.8 697.4 1384.1 685.8 1092.5ZM948.3 1254.4 951.2 1252.9 954.6 1252.1 958.0 1252.3 961.4 1253.4 964.9 1255.6 972.0 1262.7 982.7 1278.3 1007.9 1319.4 1029.7 1358.2 1056.0 1409.8 1082.6 1465.4 847.6 1415.8 876.1 1360.2 899.3 1320.0 912.1 1300.3 931.5 1273.2 941.3 1260.8 947.9 1254.7Z" fill="#ffc400" fill-rule="evenodd"/>
<path d="M685.6 1088.4 1236.3 1190.3 1243.4 1499.4 1118.7 1473.0 1074.7 1375.9 1018.1 1247.0 1000.3 1209.9 989.4 1191.0 983.2 1182.2 978.1 1176.2 969.0 1168.4 962.1 1164.7 955.2 1162.5 948.3 1162.1 941.5 1163.3 932.9 1167.8 928.2 1171.8 922.6 1178.4 912.9 1193.3 904.7 1208.4 897.5 1223.7 849.8 1330.1 813.2 1408.5 697.4 1384.1 685.8 1092.5ZM952.2 1255.2 954.7 1254.6 958.1 1254.7 961.5 1255.9 965.0 1258.1 968.5 1261.4 977.1 1272.6 997.2 1304.5 1018.9 1341.0 1037.1 1374.4 1059.4 1418.8 1081.5 1465.2 848.7 1416.0 877.2 1360.7 889.8 1338.3 899.4 1322.6 915.4 1298.6 937.1 1268.9 944.6 1260.2 947.9 1257.4 951.3 1255.5Z" fill="#ffe200" fill-rule="evenodd"/>
<path d="M685.6 1088.4 1236.3 1190.3 1243.4 1499.4 1119.8 1473.3 1071.4 1366.1 1017.3 1242.7 1006.4 1219.5 999.1 1205.5 986.7 1185.1 983.1 1180.3 976.0 1172.6 972.5 1169.5 965.5 1164.9 962.0 1163.2 955.1 1161.1 948.3 1160.6 944.9 1161.0 938.1 1163.0 934.8 1164.8 928.1 1169.9 924.9 1173.4 921.1 1178.1 913.7 1189.3 907.4 1200.6 898.0 1219.6 852.5 1321.8 812.1 1408.3 697.4 1384.1 685.8 1092.5ZM949.9 1258.9 954.7 1257.0 958.2 1257.1 961.6 1258.4 965.1 1260.7 972.1 1268.5 982.9 1284.6 1008.1 1325.4 1029.8 1363.3 1051.7 1405.5 1080.4 1464.9 849.8 1416.3 874.1 1368.8 886.7 1346.2 896.3 1330.3 909.1 1310.8 928.4 1283.9 941.5 1266.8 948.0 1260.1Z" fill="#eeff09" fill-rule="evenodd"/>
<path d="M685.6 1088.4 1236.3 1190.3 1243.4 1499.4 1121.1 1473.5 1075.0 1371.9 1020.7 1247.5 1003.0 1210.4 990.2 1188.2 985.8 1181.9 979.5 1174.3 972.5 1167.8 965.5 1163.3 962.0 1161.7 955.1 1159.7 948.2 1159.1 944.8 1159.4 938.1 1161.4 931.4 1165.2 925.5 1170.6 921.5 1175.3 917.0 1181.5 910.2 1192.8 894.9 1223.2 849.3 1326.1 810.9 1408.1 697.4 1384.1 685.8 1092.5ZM954.2 1259.8 958.2 1259.7 961.7 1260.9 965.2 1263.4 972.2 1271.4 979.4 1282.2 1008.2 1328.6 1022.7 1353.1 1040.8 1386.5 1059.1 1422.7 1079.2 1464.7 850.9 1416.5 877.3 1365.4 890.0 1343.4 899.5 1328.1 912.4 1309.4 938.8 1273.4 944.8 1266.1 948.1 1262.9 951.5 1260.7Z" fill="#d4ff23" fill-rule="evenodd"/>
<path d="M685.6 1088.4 1236.3 1190.3 1243.4 1499.4 1122.3 1473.8 1082.3 1385.7 1022.1 1247.8 1013.7 1229.3 1002.1 1206.1 990.2 1185.8 983.9 1177.3 979.5 1172.4 975.9 1168.9 968.9 1163.5 961.9 1160.0 955.0 1157.9 948.2 1157.4 941.4 1158.4 934.7 1161.1 931.3 1163.4 927.2 1166.7 921.4 1172.9 910.8 1188.7 900.7 1207.6 893.5 1222.9 843.0 1336.9 809.8 1407.8 697.4 1384.1 685.8 1092.5ZM951.7 1263.4 954.9 1262.3 958.3 1262.4 961.8 1263.7 965.3 1266.2 972.3 1274.7 979.5 1285.6 1011.9 1338.0 1033.6 1375.6 1055.5 1417.8 1078.0 1464.5 852.0 1416.7 877.4 1368.1 896.5 1336.2 909.3 1317.4 938.4 1277.5 944.9 1269.3 951.5 1263.5Z" fill="#baff3c" fill-rule="evenodd"/>
<path d="M685.8 1092.5 685.7 1090.1 795.0 1110.1 857.7 1120.2 1052.8 1156.3 1118.4 1170.0 1236.4 1192.1 1243.4 1499.4 1123.8 1474.1 1085.9 1390.8 1021.8 1243.5 1006.3 1211.1 993.0 1187.5 986.5 1178.2 979.4 1169.9 972.3 1163.7 965.3 1159.3 961.9 1157.7 955.0 1155.8 948.1 1155.2 944.7 1155.5 937.9 1157.3 931.3 1160.8 924.6 1166.6 918.7 1173.5 909.1 1188.4 900.9 1203.5 893.6 1218.8 839.8 1340.5 808.4 1407.5 697.4 1384.1 686.0 1096.7ZM950.7 1267.4 955.0 1265.4 958.4 1265.3 961.9 1266.7 965.4 1269.4 968.9 1273.4 976.0 1283.7 1015.6 1347.9 1033.7 1379.0 1052.0 1413.5 1076.6 1464.2 853.4 1417.0 874.4 1376.7 887.0 1354.8 896.6 1339.7 938.5 1281.2 948.3 1269.3Z" fill="#a0ff56" fill-rule="evenodd"/>
<path d="M871.3 1126.9 920.2 1134.4 985.5 1146.4 1111.5 1174.5 1236.5 1198.3 1243.4 1499.4 1125.6 1474.5 1085.8 1386.8 1028.0 1253.2 1017.6 1230.1 1006.1 1206.8 995.5 1187.9 990.0 1179.7 982.8 1170.5 975.8 1163.7 968.7 1158.4 961.8 1154.5 954.9 1152.4 948.0 1152.0 941.2 1153.2 937.8 1154.2 934.5 1156.0 927.8 1160.2 921.2 1166.7 916.3 1173.0 906.9 1187.9 896.9 1206.9 888.0 1226.0 839.7 1336.6 806.7 1407.2 697.4 1384.1 685.9 1096.1 798.6 1116.5 832.1 1121.7 869.2 1126.7ZM957.0 1268.7 958.5 1268.7 962.0 1270.1 965.5 1273.0 972.6 1282.3 1023.0 1364.4 1044.8 1402.9 1059.4 1431.4 1075.0 1463.8 854.9 1417.4 874.5 1380.1 887.1 1358.6 896.7 1343.9 943.8 1278.6 950.3 1271.5 955.1 1268.8Z" fill="#87ff70" fill-rule="evenodd"/>
<path d="M864.1 1134.0 900.0 1137.7 920.4 1140.6 930.7 1143.3 934.2 1145.2 936.3 1147.4 934.3 1148.9 933.0 1151.0 931.0 1152.1 924.4 1158.3 915.5 1168.7 906.0 1183.6 899.7 1194.9 881.6 1233.1 845.7 1317.1 827.2 1358.3 804.3 1406.7 697.4 1384.1 686.5 1110.9 742.5 1121.1 775.7 1126.2 809.1 1130.1 862.7 1133.9ZM973.4 1154.3 975.4 1152.9 978.8 1152.3 985.7 1152.8 996.1 1154.8 1046.9 1168.0 1101.2 1184.4 1126.0 1190.9 1168.7 1200.7 1236.9 1213.8 1243.4 1499.4 1128.0 1475.0 1100.5 1414.7 1081.9 1372.7 1039.2 1272.2 1020.6 1230.7 1009.2 1207.4 998.9 1188.6 989.8 1174.7 982.7 1165.4 976.9 1159.2 975.5 1156.6ZM956.8 1272.8 958.6 1272.7 962.1 1274.2 965.6 1277.4 969.2 1281.8 976.3 1292.7 1037.6 1394.5 1052.2 1421.3 1073.0 1463.4 856.8 1417.8 874.6 1384.4 890.5 1358.7 945.3 1281.6 950.7 1275.8 955.2 1272.9Z" fill="#6dff8a" fill-rule="evenodd"/>
<path d="M894.7 1152.2 903.8 1152.8 907.2 1153.4 910.7 1155.0 911.5 1159.5 910.1 1163.5 889.8 1201.4 877.2 1228.1 862.3 1262.5 836.0 1327.1 817.6 1368.7 800.2 1405.8 734.0 1391.8 813.5 1224.0 825.0 1201.4 836.2 1182.8 841.6 1175.5 848.0 1168.4 856.6 1161.7 862.2 1158.6 869.5 1155.8 879.4 1153.5 893.7 1152.2ZM999.8 1171.9 1003.5 1171.4 1007.0 1172.1 1016.4 1175.0 1032.3 1182.2 1042.8 1188.4 1050.5 1194.1 1061.7 1204.7 1069.9 1214.7 1076.5 1224.4 1090.0 1248.2 1104.0 1276.3 1203.4 1490.9 1132.5 1475.9 1111.3 1429.7 1089.1 1378.6 1057.2 1301.0 1039.4 1259.6 1024.5 1227.2 1003.9 1186.5 999.5 1176.0ZM952.1 1280.2 955.4 1278.4 958.8 1278.1 962.3 1279.8 965.8 1283.0 972.9 1293.1 1037.8 1401.5 1056.0 1434.4 1070.4 1462.8 859.4 1418.3 871.7 1395.9 887.5 1370.4 945.5 1287.7 952.1 1280.3Z" fill="#53ffa4" fill-rule="evenodd"/>
<path d="M952.5 1288.6 955.7 1286.6 959.1 1286.1 962.5 1288.0 966.0 1291.5 969.6 1296.5 1008.0 1362.3 1045.4 1424.8 1065.4 1461.8 864.2 1419.3 875.2 1400.5 884.7 1385.9 914.7 1343.3 945.8 1296.9 952.3 1288.8Z" fill="#39ffbe" fill-rule="evenodd"/>
<path d="M958.6 1306.5 959.7 1306.4 963.2 1308.4 966.7 1312.5 986.0 1345.4 1013.4 1385.9 1035.2 1422.1 1055.3 1459.7 1004.9 1449.0 994.1 1434.3 980.2 1419.0 973.2 1413.3 966.3 1409.7 962.9 1408.7 959.5 1408.3 952.9 1409.1 946.1 1411.9 939.5 1416.3 933.2 1421.5 923.2 1431.8 873.9 1421.4 886.7 1399.4 903.9 1374.2 917.3 1356.7 935.7 1335.2 949.7 1314.0 953.0 1309.8 956.3 1307.0Z" fill="#1fffd7" fill-rule="evenodd"/>
<path d="M946.6 1349.8 950.9 1349.0 957.6 1349.1 964.5 1350.4 971.4 1353.2 981.8 1360.0 992.4 1370.4 999.5 1379.2 1008.0 1391.5 1021.7 1415.2 1028.1 1429.0 1029.5 1433.4 1030.1 1437.7 1028.7 1439.8 1025.2 1438.4 1018.2 1432.6 986.9 1399.6 975.9 1389.3 969.0 1384.6 962.1 1381.9 955.3 1381.8 948.6 1383.7 938.2 1389.5 918.8 1403.4 909.0 1409.8 902.4 1412.6 899.0 1412.5 897.5 1409.9 897.8 1405.9 898.9 1402.0 904.4 1390.8 913.9 1376.2 922.6 1365.6 929.7 1358.8 937.5 1353.3 944.1 1350.4Z" fill="#06edf1" fill-rule="evenodd"/>
<path d="M948.2 1358.5 954.5 1357.5 961.3 1358.0 968.2 1360.3 974.6 1363.9 981.2 1369.4 989.7 1379.4 992.8 1384.2 994.6 1388.7 993.0 1390.9 986.0 1387.0 972.1 1377.6 961.8 1373.9 951.6 1373.4 941.6 1375.8 938.2 1377.2 931.5 1378.2 929.7 1375.4 931.2 1371.6 934.0 1368.0 937.5 1364.6 941.9 1361.3 947.8 1358.6Z" fill="#00ccff" fill-rule="evenodd"/>
</g>
<clipPath id="cl3"><polygon points="385.1,1173.7 938.9,1283.3 820.8,1572.7 518.9,1504.6"/></clipPath>
<g clip-path="url(#cl3)" opacity="0.85" stroke="none">
<polygon points="385.1,1173.7 938.9,1283.3 820.8,1572.7 518.9,1504.6" fill="#ff3000"/>
<path d="M385.1 1173.7 938.9 1283.3 949.1 1601.6 801.9 1568.4 770.8 1497.1 708.2 1348.2 696.8 1323.4 685.7 1303.8 677.4 1292.1 672.7 1286.8 665.8 1281.1 657.2 1277.9 648.7 1277.7 642.2 1280.6 637.9 1284.1 630.5 1292.5 624.1 1302.0 620.9 1307.7 611.6 1328.1 568.0 1435.6 565.9 1439.6 564.8 1443.4 562.9 1447.0 561.6 1451.1 537.0 1508.7 400.0 1477.8 385.3 1177.9ZM654.9 1330.6 659.3 1330.4 662.8 1331.7 666.3 1333.9 669.9 1337.0 673.5 1340.7 679.6 1348.6 689.1 1363.5 716.2 1412.2 741.8 1460.7 768.7 1513.8 794.3 1566.7 544.2 1510.3 559.2 1480.1 581.0 1438.5 615.5 1377.9 624.6 1362.8 637.3 1344.1 645.9 1335.0 652.5 1331.0Z" fill="#ff4e00" fill-rule="evenodd"/>
<path d="M385.1 1173.7 938.9 1283.3 949.1 1601.6 809.3 1570.1 766.7 1474.7 711.5 1346.6 700.2 1322.4 689.1 1302.4 681.8 1291.5 674.7 1282.9 667.5 1276.9 660.5 1273.7 657.0 1272.8 653.6 1272.3 646.7 1272.8 639.9 1275.9 633.4 1281.7 627.0 1289.7 617.4 1305.4 608.1 1325.1 563.9 1430.5 529.9 1507.1 400.0 1477.8 385.3 1177.9ZM652.4 1342.9 656.4 1341.7 659.8 1341.9 663.3 1343.1 666.8 1345.4 670.4 1348.4 673.9 1352.5 680.6 1361.7 686.9 1371.6 709.1 1410.7 735.0 1459.2 761.4 1512.2 786.4 1564.9 551.8 1512.0 566.3 1481.7 581.7 1451.3 606.7 1405.9 622.7 1379.5 634.9 1360.7 643.1 1350.0 649.7 1344.1Z" fill="#ff6c00" fill-rule="evenodd"/>
<path d="M385.1 1173.7 938.9 1283.3 949.1 1601.6 811.9 1570.7 763.0 1461.0 715.1 1350.2 700.1 1317.9 688.9 1298.2 678.3 1283.7 672.8 1278.2 667.3 1274.3 663.8 1272.1 656.9 1269.9 650.1 1269.3 646.6 1270.1 641.4 1271.9 636.6 1274.9 632.5 1278.7 626.8 1285.6 617.2 1300.9 604.8 1327.2 566.3 1418.4 527.3 1506.5 400.0 1477.8 385.3 1177.9ZM654.6 1347.7 656.6 1347.1 660.0 1347.3 663.5 1348.6 670.6 1354.0 677.8 1362.9 685.9 1375.7 708.4 1414.8 731.9 1458.5 753.8 1501.9 783.6 1564.3 554.4 1512.6 584.6 1451.9 609.9 1406.6 626.2 1380.2 638.8 1361.5 646.6 1352.3 649.9 1349.6 653.2 1347.9Z" fill="#ff8900" fill-rule="evenodd"/>
<path d="M385.1 1173.7 938.9 1283.3 949.1 1601.6 814.0 1571.1 767.0 1466.1 715.0 1346.2 699.9 1314.4 688.8 1295.1 684.9 1289.3 677.9 1280.8 674.3 1277.3 667.3 1271.9 660.3 1268.8 656.8 1267.9 653.4 1267.4 646.5 1267.8 639.8 1270.3 636.5 1272.4 630.1 1278.2 626.7 1282.5 617.1 1297.5 604.6 1323.3 562.9 1421.8 525.4 1506.1 400.0 1477.8 385.3 1177.9ZM653.9 1351.8 656.8 1351.0 660.2 1351.2 663.7 1352.4 667.2 1354.8 674.3 1362.3 686.0 1380.0 708.6 1419.2 734.7 1467.7 754.1 1506.3 781.5 1563.8 556.4 1513.1 584.7 1456.2 594.8 1437.3 610.0 1410.8 626.5 1384.5 639.1 1365.8 646.8 1356.5 650.1 1353.7 653.4 1351.9Z" fill="#ffa700" fill-rule="evenodd"/>
<path d="M385.1 1173.7 938.9 1283.3 949.1 1601.6 815.6 1571.5 770.6 1471.2 715.0 1343.0 699.8 1311.4 688.7 1292.4 678.7 1279.4 672.7 1273.9 667.2 1270.1 661.3 1267.2 656.7 1265.9 652.2 1265.4 646.4 1265.9 641.1 1267.5 635.6 1270.7 631.5 1274.2 626.5 1279.8 617.0 1294.5 604.4 1320.1 559.7 1425.4 523.9 1505.8 400.0 1477.8 385.3 1177.9ZM652.6 1355.8 656.9 1354.3 660.3 1354.5 663.8 1355.7 667.3 1358.1 674.5 1365.9 683.5 1379.5 707.6 1420.9 727.7 1457.6 750.0 1501.1 779.9 1563.5 557.9 1513.4 582.4 1464.1 594.6 1441.4 607.6 1418.8 619.2 1400.0 636.4 1373.8 643.7 1363.8 650.2 1357.2Z" fill="#ffc400" fill-rule="evenodd"/>
<path d="M385.1 1173.7 938.9 1283.3 949.1 1601.6 817.1 1571.8 774.2 1476.3 716.4 1343.3 700.3 1309.7 688.6 1289.8 685.0 1284.7 677.7 1276.5 674.2 1273.2 667.1 1268.2 663.6 1266.5 656.6 1264.3 649.8 1263.7 646.4 1264.1 639.6 1266.2 636.3 1268.1 629.7 1273.5 626.4 1277.2 616.3 1292.6 610.2 1304.2 603.0 1319.8 556.6 1428.9 522.5 1505.4 400.0 1477.8 385.3 1177.9ZM651.3 1359.8 653.7 1358.4 657.0 1357.4 660.5 1357.5 663.9 1358.8 667.4 1361.2 671.0 1364.8 674.6 1369.3 681.9 1380.4 707.7 1424.4 731.0 1466.9 753.1 1510.4 778.4 1563.1 559.4 1513.8 586.0 1460.7 605.6 1425.7 618.2 1405.2 636.1 1378.0 643.8 1367.4 650.3 1360.5Z" fill="#ffe200" fill-rule="evenodd"/>
<path d="M385.1 1173.7 938.9 1283.3 949.1 1601.6 818.5 1572.2 771.4 1467.1 715.7 1338.8 701.9 1310.1 690.6 1290.5 681.3 1278.1 677.7 1274.4 670.6 1268.6 663.5 1264.8 656.6 1262.6 649.7 1262.0 642.9 1263.1 636.2 1266.1 632.9 1268.4 624.5 1277.1 614.8 1292.2 603.3 1315.6 558.6 1420.9 521.1 1505.1 400.0 1477.8 385.3 1177.9ZM655.7 1360.8 657.2 1360.3 660.6 1360.4 664.0 1361.7 667.6 1364.3 674.8 1372.7 685.7 1390.0 711.5 1434.3 733.8 1475.2 756.3 1519.6 777.0 1562.8 560.8 1514.1 587.0 1462.1 608.9 1423.7 621.6 1403.7 640.7 1375.2 647.2 1366.9 650.5 1363.6 653.8 1361.4Z" fill="#eeff09" fill-rule="evenodd"/>
<path d="M385.1 1173.7 938.9 1283.3 949.1 1601.6 819.9 1572.5 775.3 1472.9 719.4 1343.9 708.3 1320.0 700.9 1305.5 689.0 1285.8 684.8 1280.1 677.6 1272.4 670.5 1266.7 667.0 1264.7 660.0 1261.7 656.5 1260.8 653.1 1260.3 646.2 1260.5 642.8 1261.2 636.1 1264.0 629.5 1269.0 625.7 1273.0 620.1 1280.5 615.3 1288.1 609.1 1299.7 600.1 1319.2 555.2 1425.1 519.8 1504.8 400.0 1477.8 385.3 1177.9ZM653.7 1364.6 657.3 1363.3 660.7 1363.4 664.2 1364.8 667.7 1367.4 674.9 1376.1 682.2 1387.6 708.0 1431.4 730.2 1471.3 752.6 1514.9 775.5 1562.5 562.2 1514.4 584.0 1471.0 602.7 1437.5 618.5 1412.1 637.7 1383.5 644.1 1374.4 650.6 1366.9Z" fill="#d4ff23" fill-rule="evenodd"/>
<path d="M385.1 1173.7 938.9 1283.3 949.1 1601.6 821.5 1572.8 779.0 1478.1 723.1 1349.0 705.2 1310.7 697.3 1296.1 692.0 1287.5 687.5 1281.2 681.1 1273.6 673.9 1267.2 666.9 1262.7 663.4 1261.0 656.4 1258.9 649.6 1258.2 646.1 1258.5 639.4 1260.2 632.7 1263.8 626.9 1268.9 622.9 1273.5 618.2 1280.1 611.5 1291.6 605.6 1303.2 596.8 1322.8 552.1 1428.7 518.3 1504.5 400.0 1477.8 385.3 1177.9ZM652.8 1368.7 657.4 1366.5 660.8 1366.5 664.3 1367.9 667.8 1370.7 671.4 1374.8 678.7 1385.4 711.8 1441.6 730.3 1474.8 752.7 1518.1 774.0 1562.1 563.7 1514.7 587.3 1468.4 606.0 1435.8 637.8 1387.3 644.3 1378.1 650.7 1370.4Z" fill="#baff3c" fill-rule="evenodd"/>
<path d="M385.3 1177.9 385.1 1175.4 501.7 1198.2 572.0 1210.7 739.5 1243.8 813.0 1259.9 938.9 1285.1 949.1 1601.6 823.2 1573.2 782.6 1482.9 722.8 1344.6 711.9 1320.8 704.7 1306.3 691.8 1284.3 686.0 1276.5 681.0 1271.1 677.4 1267.6 670.3 1262.3 663.3 1259.0 656.3 1256.7 649.5 1256.2 642.6 1256.8 635.9 1259.3 632.6 1261.4 628.0 1264.9 622.7 1270.4 618.6 1275.9 611.6 1287.3 605.6 1298.9 596.7 1318.5 548.9 1431.9 516.6 1504.1 400.0 1477.8 385.5 1182.2ZM658.3 1369.9 661.0 1369.9 664.4 1371.4 668.0 1374.4 675.2 1383.8 682.5 1395.6 712.0 1445.8 734.2 1485.5 749.1 1514.1 772.3 1561.8 565.3 1515.1 584.3 1477.6 606.2 1439.7 644.4 1382.3 650.9 1374.2 654.2 1371.5 657.6 1369.9Z" fill="#a0ff56" fill-rule="evenodd"/>
<path d="M587.6 1218.1 631.1 1225.6 676.1 1234.4 721.4 1244.5 806.1 1264.6 939.1 1291.5 949.1 1601.6 825.3 1573.7 782.5 1478.3 723.0 1340.3 712.0 1316.4 704.6 1302.0 692.9 1282.3 688.0 1275.7 680.8 1267.8 673.7 1261.8 666.7 1257.4 656.2 1253.9 649.3 1253.1 645.9 1253.2 639.2 1254.9 632.5 1258.0 625.8 1263.2 621.5 1267.8 611.4 1283.0 605.2 1294.6 596.1 1314.1 548.7 1427.4 514.7 1503.7 400.0 1477.8 385.4 1181.6 505.3 1204.9 542.4 1211.2 586.6 1217.9ZM657.6 1374.0 661.1 1373.9 664.6 1375.4 668.2 1378.6 671.8 1383.0 679.1 1394.4 730.7 1483.2 749.3 1518.3 770.3 1561.3 567.2 1515.5 584.5 1481.7 606.4 1444.5 644.6 1387.0 651.1 1378.7 654.4 1375.7Z" fill="#87ff70" fill-rule="evenodd"/>
<path d="M578.2 1224.8 624.5 1231.2 690.2 1244.3 734.2 1255.8 796.0 1274.8 835.2 1285.3 874.6 1294.3 939.6 1307.5 949.1 1601.6 827.9 1574.3 778.4 1462.9 730.3 1350.5 719.7 1326.7 708.0 1302.7 696.9 1283.1 691.5 1275.2 684.2 1266.5 677.1 1259.6 670.0 1254.5 663.0 1251.0 656.0 1249.1 649.1 1248.2 642.3 1248.9 635.6 1251.3 628.9 1255.4 622.4 1261.3 617.6 1267.0 608.0 1282.3 598.3 1301.7 589.7 1321.3 551.4 1413.8 512.2 1503.1 400.0 1477.8 386.2 1196.8 445.8 1208.5 482.5 1214.8 519.3 1219.6 576.7 1224.7ZM660.0 1378.8 661.3 1378.8 664.8 1380.4 668.4 1383.8 672.0 1388.5 679.3 1400.1 719.8 1469.6 738.3 1502.5 753.2 1530.9 768.0 1560.8 569.4 1516.0 587.8 1481.4 603.5 1455.4 648.1 1388.2 653.7 1381.7 657.9 1379.0Z" fill="#6dff8a" fill-rule="evenodd"/>
<path d="M594.3 1245.2 604.7 1245.1 611.5 1246.0 615.0 1247.5 616.8 1249.7 616.1 1253.8 601.6 1281.0 588.8 1308.3 535.8 1437.4 507.2 1502.0 443.4 1487.6 517.6 1323.3 528.8 1300.2 537.3 1284.9 544.7 1273.7 550.6 1266.3 557.8 1259.2 562.1 1255.8 567.4 1252.6 573.8 1249.6 582.3 1247.1 591.1 1245.6ZM696.2 1265.6 697.9 1264.1 701.4 1264.0 711.9 1267.2 719.1 1270.2 729.6 1275.8 740.9 1283.3 747.9 1289.0 758.6 1299.9 766.7 1310.3 773.5 1320.4 787.7 1345.0 804.5 1378.9 901.6 1590.9 833.2 1575.5 797.0 1494.6 730.2 1337.5 714.5 1304.0 697.3 1270.2ZM656.8 1386.7 658.2 1385.9 661.6 1385.6 665.1 1387.3 668.7 1391.0 675.9 1401.9 738.6 1510.7 749.8 1531.4 764.3 1559.9 573.0 1516.8 585.0 1494.6 600.7 1468.7 645.2 1400.7 651.6 1391.6 654.9 1388.0Z" fill="#53ffa4" fill-rule="evenodd"/>
<path d="M656.6 1399.5 658.7 1397.9 662.1 1397.4 665.6 1399.4 669.2 1403.4 672.8 1408.9 743.0 1533.8 755.9 1558.0 581.2 1518.7 592.0 1500.1 645.7 1414.1 655.4 1400.5Z" fill="#39ffbe" fill-rule="evenodd"/>
</g>
<clipPath id="cl4"><polygon points="64.8,1264.5 620.9,1382.6 505.8,1679.6 202.7,1606.4"/></clipPath>
<g clip-path="url(#cl4)" opacity="0.85" stroke="none">
<polygon points="64.8,1264.5 620.9,1382.6 505.8,1679.6 202.7,1606.4" fill="#ffc400"/>
<path d="M64.8 1264.5 620.9 1382.6 634.7 1710.8 83.4 1577.7 65.1 1268.9ZM329.0 1391.1 322.3 1394.2 319.1 1396.8 314.5 1401.6 309.5 1408.8 306.4 1415.6 304.9 1421.5 304.6 1425.9 306.7 1430.7 310.7 1433.2 314.2 1434.3 321.1 1435.6 341.7 1437.9 366.1 1445.9 373.1 1447.1 376.5 1446.7 378.6 1442.3 376.5 1433.0 371.8 1422.5 362.1 1407.7 357.0 1401.8 353.4 1398.5 346.3 1393.6 339.3 1391.0 332.4 1390.6Z" fill="#ffe200" fill-rule="evenodd"/>
<path d="M64.8 1264.5 620.9 1382.6 634.7 1710.8 487.7 1675.3 435.9 1557.1 411.0 1498.3 390.3 1447.8 382.6 1430.6 371.2 1409.7 360.1 1394.2 354.0 1388.2 349.3 1384.7 343.9 1381.5 338.7 1379.9 333.6 1379.3 328.5 1380.1 324.0 1381.6 318.5 1385.1 314.9 1388.5 308.8 1396.0 299.4 1412.2 293.4 1426.2 277.8 1468.1 259.0 1516.1 241.4 1559.7 219.8 1610.6 83.4 1577.7 65.1 1268.9ZM339.8 1455.7 342.6 1455.9 346.1 1457.2 349.6 1459.4 353.2 1462.8 361.8 1473.9 374.0 1494.3 396.1 1534.7 419.7 1579.8 442.1 1624.7 463.2 1669.3 243.3 1616.3 255.9 1589.1 271.3 1558.1 289.9 1523.2 305.3 1496.2 317.1 1477.0 326.0 1464.2 329.2 1460.7 332.5 1458.2 335.8 1456.3 339.2 1455.7Z" fill="#eeff09" fill-rule="evenodd"/>
<path d="M64.8 1264.5 620.9 1382.6 634.7 1710.8 492.7 1676.5 442.6 1563.1 393.8 1448.2 382.2 1423.5 370.9 1403.5 360.6 1389.6 354.8 1383.9 349.0 1379.8 344.3 1377.2 338.5 1375.3 332.8 1374.7 328.2 1375.2 322.8 1376.9 317.5 1380.2 313.6 1383.8 308.5 1389.8 299.1 1405.1 289.9 1425.0 252.9 1519.0 215.1 1609.4 83.4 1577.7 65.1 1268.9ZM337.9 1464.1 339.6 1463.6 343.0 1463.7 346.5 1465.1 350.1 1467.7 357.3 1476.2 367.7 1492.9 393.1 1538.4 411.7 1573.5 434.3 1618.5 458.1 1668.1 248.1 1617.4 272.5 1567.0 284.7 1543.8 299.8 1516.8 315.9 1489.9 325.9 1474.6 329.7 1469.9 332.9 1466.8 336.2 1464.6Z" fill="#d4ff23" fill-rule="evenodd"/>
<path d="M64.8 1264.5 620.9 1382.6 634.7 1710.8 495.9 1677.2 450.0 1573.6 397.6 1451.0 381.9 1417.8 370.6 1398.4 364.9 1390.5 360.1 1385.1 353.5 1379.2 348.8 1376.1 341.8 1372.8 338.3 1371.8 334.9 1371.3 328.0 1371.5 323.6 1372.7 317.5 1375.8 313.2 1379.3 308.2 1384.8 298.8 1399.5 292.6 1411.8 286.4 1426.2 246.7 1526.3 212.0 1608.7 83.4 1577.7 65.1 1268.9ZM342.5 1469.6 346.8 1471.0 350.4 1473.8 354.0 1477.8 361.4 1488.6 369.3 1502.1 395.3 1549.0 415.8 1587.7 435.8 1627.6 454.8 1667.3 251.3 1618.2 276.0 1567.8 288.3 1544.7 303.8 1517.7 320.2 1490.9 327.8 1479.4 333.2 1473.1 336.5 1470.7 339.9 1469.5Z" fill="#baff3c" fill-rule="evenodd"/>
<path d="M65.1 1268.9 64.9 1266.3 191.9 1293.0 270.5 1308.2 401.9 1336.1 487.3 1355.9 621.0 1384.5 634.7 1710.8 498.7 1677.9 448.0 1563.3 398.1 1446.7 384.0 1416.9 372.4 1396.6 363.0 1384.4 355.8 1377.4 352.2 1374.8 345.1 1370.8 338.2 1368.5 331.3 1367.8 324.5 1368.8 321.1 1369.9 314.5 1373.8 311.2 1376.6 306.3 1382.2 301.0 1389.8 296.6 1397.7 285.4 1421.6 247.6 1516.8 209.4 1608.1 83.4 1577.7 65.3 1273.3ZM336.1 1476.9 340.2 1475.0 343.6 1475.0 347.1 1476.5 350.7 1479.5 354.3 1483.8 361.7 1495.0 388.1 1541.6 407.0 1576.5 429.9 1621.2 451.9 1666.6 254.2 1618.9 271.3 1583.5 289.7 1549.0 305.2 1522.4 320.8 1496.9 327.1 1487.2 333.5 1479.1Z" fill="#a0ff56" fill-rule="evenodd"/>
<path d="M290.8 1316.9 356.9 1330.6 480.4 1360.6 621.3 1391.2 634.7 1710.8 501.6 1678.6 451.5 1565.7 398.9 1442.4 387.2 1417.6 379.1 1402.5 373.9 1394.0 368.8 1387.0 362.8 1379.9 355.6 1373.4 352.0 1370.9 344.9 1367.1 338.0 1364.8 331.1 1364.1 324.3 1364.9 320.9 1365.9 314.2 1369.4 308.9 1373.9 304.5 1378.9 300.1 1385.2 293.4 1397.0 284.2 1416.9 244.3 1517.5 206.6 1607.4 83.4 1577.7 65.3 1272.7 192.3 1299.3 287.6 1316.4ZM338.5 1481.8 340.5 1480.9 343.9 1480.9 347.4 1482.5 351.0 1485.7 354.6 1490.2 362.1 1502.0 392.2 1555.4 411.2 1590.3 430.2 1627.6 448.9 1665.9 257.0 1619.6 274.7 1583.8 293.1 1550.2 327.5 1494.1 333.9 1485.5 337.1 1482.5Z" fill="#87ff70" fill-rule="evenodd"/>
<path d="M276.6 1322.8 319.0 1330.0 364.2 1339.9 397.0 1348.5 470.4 1371.3 509.8 1382.2 549.3 1391.8 622.0 1407.7 634.7 1710.8 505.2 1679.5 455.1 1566.3 402.7 1443.3 386.2 1408.5 374.1 1388.1 369.8 1382.4 362.5 1374.1 355.3 1368.0 348.2 1363.6 344.7 1361.9 337.7 1359.7 330.8 1358.9 327.4 1359.1 320.6 1360.5 313.9 1363.6 307.4 1368.8 303.7 1372.8 298.2 1380.4 293.5 1388.2 287.6 1400.1 280.5 1416.1 240.9 1516.6 203.2 1606.6 83.4 1577.7 66.2 1288.4 132.6 1302.4 169.5 1309.3 206.5 1314.8 274.3 1322.5ZM337.4 1490.4 340.8 1488.5 344.3 1488.3 347.8 1490.0 351.5 1493.6 358.7 1504.2 411.6 1598.6 430.6 1635.3 445.1 1665.0 260.7 1620.4 278.2 1585.8 293.6 1558.6 321.6 1512.7 334.3 1493.6Z" fill="#6dff8a" fill-rule="evenodd"/>
<path d="M278.8 1345.3 289.1 1344.9 299.4 1345.7 302.8 1346.8 306.4 1350.1 306.9 1351.4 304.8 1355.3 300.2 1361.5 292.0 1374.6 280.7 1398.6 228.4 1531.2 197.2 1605.1 133.5 1589.8 202.2 1429.2 213.1 1405.5 221.4 1389.9 228.7 1378.3 234.3 1370.8 240.8 1363.5 245.9 1358.9 254.1 1353.2 260.2 1350.1 268.0 1347.4 275.6 1345.8ZM368.5 1364.7 368.9 1363.5 372.2 1361.8 379.2 1363.1 386.3 1365.8 396.9 1370.7 408.6 1377.8 418.5 1385.3 429.6 1395.7 439.0 1406.7 450.2 1422.6 465.2 1448.2 482.6 1483.4 579.8 1697.5 511.5 1681.0 470.0 1587.7 400.7 1425.0 386.4 1395.2 369.0 1365.4ZM342.3 1500.3 344.9 1500.2 348.4 1502.0 352.0 1506.0 359.4 1517.6 416.0 1619.2 439.0 1663.5 266.5 1621.9 285.0 1588.0 331.8 1511.3 338.2 1502.9 341.5 1500.4Z" fill="#53ffa4" fill-rule="evenodd"/>
</g>
<path d="M1217.0,898.9 L1839.7,999.0 L1841.1,1336.5 L652.4,1755.8" fill="none" stroke="#000" stroke-width="3.3" stroke-linejoin="miter" stroke-linecap="butt"/>
<path d="M1255.1,898.9 L1255.1,909.5 M1320.3,909.4 L1320.3,920.0 M1386.3,919.9 L1386.3,930.5 M1452.9,930.7 L1452.9,941.3 M1520.3,941.5 L1520.3,952.1 M1588.5,952.4 L1588.5,963.0 M1657.4,963.5 L1657.4,974.1 M1727.2,974.7 L1727.2,985.3 M1797.7,986.0 L1797.7,996.6 M1833.7,1037.0 L1851.7,1039.9 M1833.9,1102.3 L1852.0,1105.4 M1834.2,1167.4 L1852.2,1170.5 M1834.5,1232.2 L1852.5,1235.4 M1834.7,1296.7 L1852.7,1300.0 M1814.6,1342.5 L1832.6,1345.8 M1643.7,1402.7 L1661.7,1406.2 M1465.7,1465.4 L1483.6,1469.1 M1280.1,1530.8 L1298.0,1534.7 M1086.4,1599.1 L1104.3,1603.1 M884.1,1670.4 L902.0,1674.6 M672.6,1745.0 L690.4,1749.3" fill="none" stroke="#000" stroke-width="3.0" stroke-linecap="butt"/>
<g font-family="'Liberation Serif','Times New Roman',serif" font-size="36" fill="#000" text-anchor="middle">
<text x="1231.5" y="887.5">−200</text>
<text x="1313.7" y="897.9">−150</text>
<text x="1391.6" y="908.3">−100</text>
<text x="1464.2" y="919.0">−50</text>
<text x="1532.2" y="929.0">0</text>
<text x="1600.0" y="940.2">50</text>
<text x="1670.0" y="951.0">100</text>
<text x="1739.0" y="961.7">150</text>
<text x="1810.0" y="972.9">200</text>
</g>
<g font-family="'Liberation Serif','Times New Roman',serif" font-size="38" fill="#000" text-anchor="middle">
<text x="1885.3" y="1053.8">20</text>
<text x="1885.3" y="1118.8">40</text>
<text x="1885.3" y="1184.2">60</text>
<text x="1885.3" y="1249.2">80</text>
<text x="1885.8" y="1313.5">100</text>
<text x="708.6" y="1793.9" font-size="37.5">30</text>
<text x="918.6" y="1720.2" font-size="37.5">20</text>
<text x="1122.0" y="1648.3" font-size="37.5">10</text>
<text x="1314.6" y="1579.8" font-size="37.5">0</text>
<text x="1499.5" y="1513.8" font-size="37.5">−10</text>
<text x="1677.2" y="1443.4" font-size="37.5">−20</text>
<text x="1847.8" y="1388.6" font-size="37.5">−30</text>
</g>
<g font-family="'Liberation Serif','Times New Roman',serif" font-size="43" fill="#000" text-anchor="middle">
<text transform="translate(1623.5,887.8) rotate(8.8)"><tspan font-style="italic">x</tspan> / m</text>
<text transform="translate(1361,1629.5) rotate(-28)"><tspan font-style="italic">y</tspan> / m</text>
<text transform="translate(1973,1174) rotate(-90)" font-size="44.5">Depth / m</text>
</g>
<g stroke="none" opacity="0.85">
<rect x="205.40" y="1837.6" width="50.45" height="47.1" fill="#920000"/>
<rect x="255.25" y="1837.6" width="50.45" height="47.1" fill="#b60000"/>
<rect x="305.11" y="1837.6" width="50.45" height="47.1" fill="#da0000"/>
<rect x="354.96" y="1837.6" width="50.45" height="47.1" fill="#ff1300"/>
<rect x="404.81" y="1837.6" width="50.45" height="47.1" fill="#ff3000"/>
<rect x="454.67" y="1837.6" width="50.45" height="47.1" fill="#ff4e00"/>
<rect x="504.52" y="1837.6" width="50.45" height="47.1" fill="#ff6c00"/>
<rect x="554.37" y="1837.6" width="50.45" height="47.1" fill="#ff8900"/>
<rect x="604.23" y="1837.6" width="50.45" height="47.1" fill="#ffa700"/>
<rect x="654.08" y="1837.6" width="50.45" height="47.1" fill="#ffc400"/>
<rect x="703.93" y="1837.6" width="50.45" height="47.1" fill="#ffe200"/>
<rect x="753.78" y="1837.6" width="50.45" height="47.1" fill="#eeff09"/>
<rect x="803.64" y="1837.6" width="50.45" height="47.1" fill="#d4ff23"/>
<rect x="853.49" y="1837.6" width="50.45" height="47.1" fill="#baff3c"/>
<rect x="903.34" y="1837.6" width="50.45" height="47.1" fill="#a0ff56"/>
<rect x="953.20" y="1837.6" width="50.45" height="47.1" fill="#87ff70"/>
<rect x="1003.05" y="1837.6" width="50.45" height="47.1" fill="#6dff8a"/>
<rect x="1052.90" y="1837.6" width="50.45" height="47.1" fill="#53ffa4"/>
<rect x="1102.76" y="1837.6" width="50.45" height="47.1" fill="#39ffbe"/>
<rect x="1152.61" y="1837.6" width="50.45" height="47.1" fill="#1fffd7"/>
<rect x="1202.46" y="1837.6" width="50.45" height="47.1" fill="#06edf1"/>
<rect x="1252.32" y="1837.6" width="50.45" height="47.1" fill="#00ccff"/>
<rect x="1302.17" y="1837.6" width="50.45" height="47.1" fill="#00adff"/>
<rect x="1352.02" y="1837.6" width="50.45" height="47.1" fill="#008cff"/>
<rect x="1401.88" y="1837.6" width="50.45" height="47.1" fill="#006dff"/>
<rect x="1451.73" y="1837.6" width="50.45" height="47.1" fill="#004dff"/>
<rect x="1501.58" y="1837.6" width="50.45" height="47.1" fill="#002dff"/>
<rect x="1551.43" y="1837.6" width="50.45" height="47.1" fill="#000dff"/>
<rect x="1601.29" y="1837.6" width="50.45" height="47.1" fill="#0000fa"/>
<rect x="1651.14" y="1837.6" width="50.45" height="47.1" fill="#0000d6"/>
<rect x="1700.99" y="1837.6" width="50.45" height="47.1" fill="#0000b2"/>
<rect x="1750.85" y="1837.6" width="50.45" height="47.1" fill="#00008d"/>
</g>
<rect x="205.7" y="1837.6" width="1595.3" height="47.1" fill="none" stroke="#000" stroke-width="3"/>
<path d="M205.7,1884.7 V1898.1 M405.1,1884.7 V1898.1 M604.5,1884.7 V1898.1 M803.9,1884.7 V1898.1 M1003.3,1884.7 V1898.1 M1202.8,1884.7 V1898.1 M1402.2,1884.7 V1898.1 M1601.6,1884.7 V1898.1 M1801.0,1884.7 V1898.1" stroke="#000" stroke-width="3" fill="none"/>
<g font-family="'Liberation Serif','Times New Roman',serif" font-size="36" fill="#000" text-anchor="middle">
<text x="205.7" y="1935.5">83</text>
<text x="405.1" y="1935.5">87</text>
<text x="604.5" y="1935.5">91</text>
<text x="803.9" y="1935.5">95</text>
<text x="1003.3" y="1935.5">99</text>
<text x="1202.8" y="1935.5">103</text>
<text x="1402.2" y="1935.5">107</text>
<text x="1601.6" y="1935.5">111</text>
<text x="1801.0" y="1935.5">115</text>
</g>
<g font-family="'Liberation Serif','Times New Roman',serif" font-size="43" fill="#000">
<text x="933.8" y="1979.4"><tspan font-style="italic">ρ</tspan><tspan font-size="27" dy="9">s</tspan><tspan dy="-9"> / Ω·m</tspan></text>
<text x="1010" y="2069.5" font-size="45" text-anchor="middle">(b)</text>
</g>
</svg>
</body></html>
